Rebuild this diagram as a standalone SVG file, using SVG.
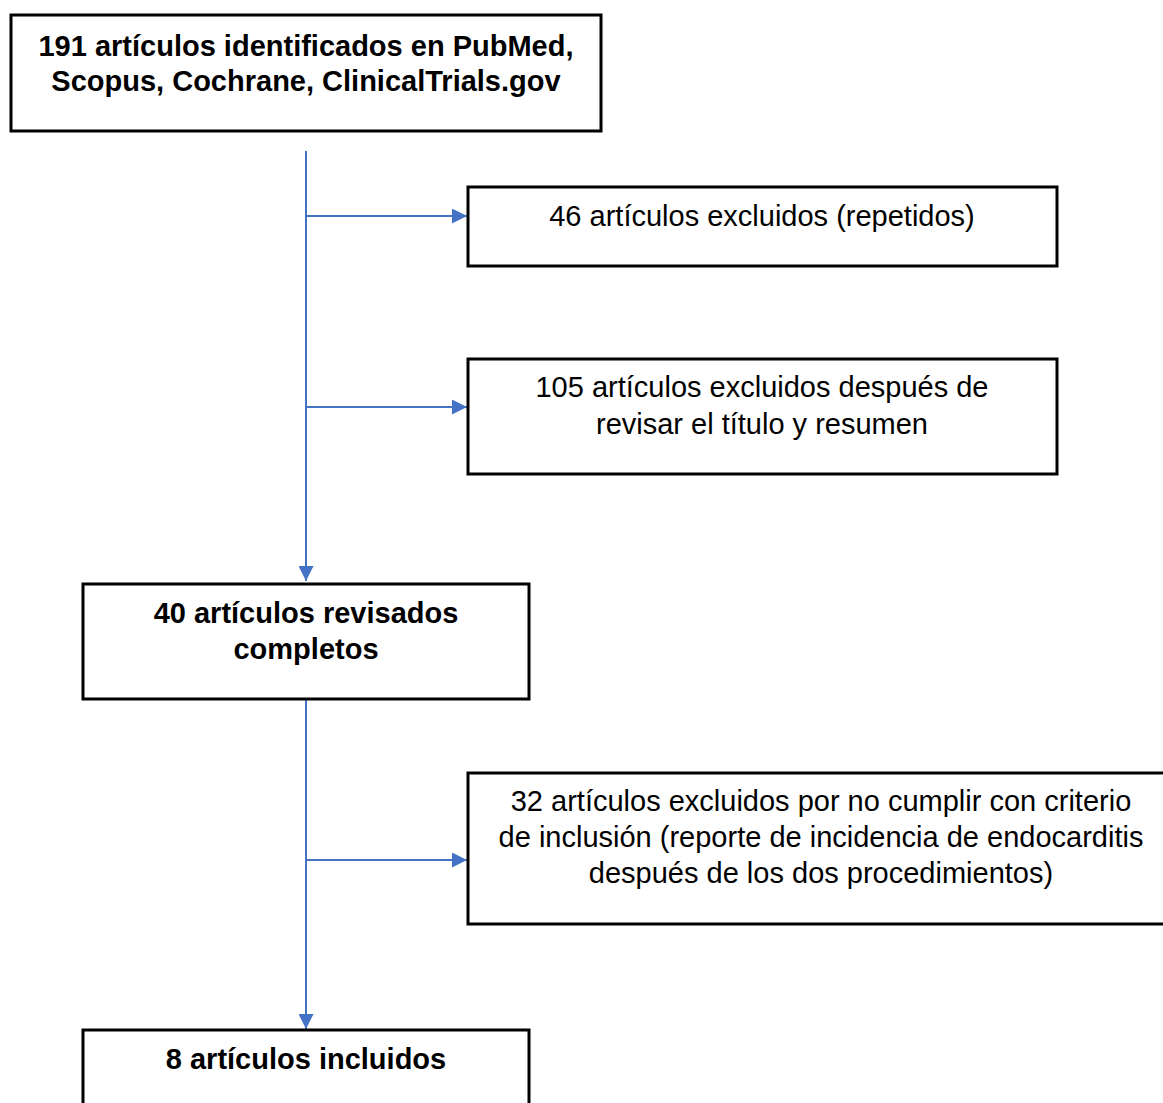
<svg xmlns="http://www.w3.org/2000/svg" width="1163" height="1103" viewBox="0 0 1163 1103">
<defs>
<style>
.box{fill:#fff;stroke:#000;stroke-width:3}
.t{font-family:"Liberation Sans",Arial,sans-serif;font-size:29px;fill:#000;text-anchor:middle}
.b{font-weight:bold}
.c{fill:none;stroke:#4472C4;stroke-width:2}
</style>
<marker id="ah" viewBox="0 0 10 10" refX="10" refY="5" markerWidth="7.5" markerHeight="7.5" orient="auto" markerUnits="strokeWidth">
<path d="M0,0 L10,5 L0,10 z" fill="#4472C4"/>
</marker>
</defs>
<rect width="1163" height="1103" fill="#fff"/>
<g id="connectors">
<line class="c" x1="306" y1="151" x2="306" y2="581" marker-end="url(#ah)"/>
<line class="c" x1="306" y1="216" x2="467" y2="216" marker-end="url(#ah)"/>
<line class="c" x1="306" y1="407" x2="467" y2="407" marker-end="url(#ah)"/>
<line class="c" x1="306" y1="700" x2="306" y2="1029" marker-end="url(#ah)"/>
<line class="c" x1="306" y1="860" x2="467" y2="860" marker-end="url(#ah)"/>
</g>
<g id="n1">
<rect class="box" x="11" y="15" width="590" height="116"/>
<text class="t b" x="306" y="56">191 artículos identificados en PubMed,</text>
<text class="t b" x="306" y="91">Scopus, Cochrane, ClinicalTrials.gov</text>
</g>
<g id="n2">
<rect class="box" x="468" y="187" width="589" height="79"/>
<text class="t" x="762" y="226">46 artículos excluidos (repetidos)</text>
</g>
<g id="n3">
<rect class="box" x="468" y="359" width="589" height="115"/>
<text class="t" x="762" y="397">105 artículos excluidos después de</text>
<text class="t" x="762" y="434">revisar el título y resumen</text>
</g>
<g id="n4">
<rect class="box" x="83" y="584" width="446" height="115"/>
<text class="t b" x="306" y="623">40 artículos revisados</text>
<text class="t b" x="306" y="659">completos</text>
</g>
<g id="n5">
<rect class="box" x="468" y="773" width="710" height="151"/>
<text class="t" x="821" y="811">32 artículos excluidos por no cumplir con criterio</text>
<text class="t" x="821" y="847">de inclusión (reporte de incidencia de endocarditis</text>
<text class="t" x="821" y="883">después de los dos procedimientos)</text>
</g>
<g id="n6">
<rect class="box" x="83" y="1030" width="446" height="100"/>
<text class="t b" x="306" y="1069">8 artículos incluidos</text>
</g>
</svg>
